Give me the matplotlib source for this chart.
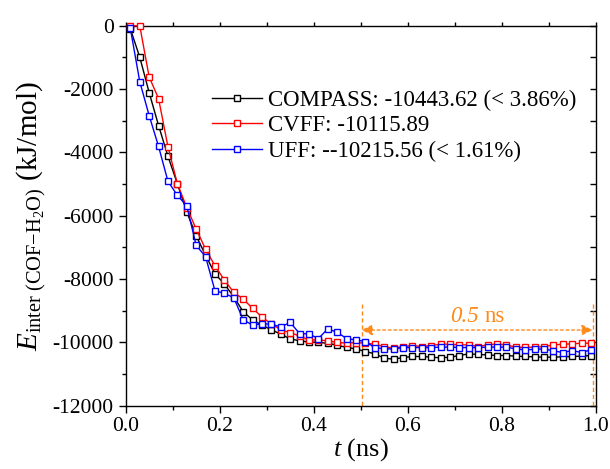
import matplotlib
matplotlib.use("Agg")
import matplotlib.pyplot as plt
from matplotlib.ticker import MultipleLocator
import numpy as np

plt.rcParams['font.family'] = ['Liberation Serif', 'DejaVu Serif']
plt.rcParams['mathtext.fontset'] = 'custom'
plt.rcParams['mathtext.rm'] = 'Liberation Serif'
plt.rcParams['mathtext.it'] = 'Liberation Serif:italic'
plt.rcParams['axes.unicode_minus'] = False

t = [0.01, 0.03, 0.05, 0.07, 0.09, 0.11, 0.13, 0.15, 0.17, 0.19,
     0.21, 0.23, 0.25, 0.27, 0.29, 0.31, 0.33, 0.35, 0.37, 0.39,
     0.41, 0.43, 0.45, 0.47, 0.49, 0.51, 0.53, 0.55, 0.57, 0.59,
     0.61, 0.63, 0.65, 0.67, 0.69, 0.71, 0.73, 0.75, 0.77, 0.79,
     0.81, 0.83, 0.85, 0.87, 0.89, 0.91, 0.93, 0.95, 0.97, 0.99]

compass = [-100, -990, -2110, -3150, -4120, -4990, -5880, -6630, -7250, -7830,
           -8160, -8560, -9030, -9290, -9460, -9600, -9740, -9890, -9950, -9990,
           -10000, -10030, -10090, -10160, -10205, -10290, -10360, -10500, -10530, -10480,
           -10446, -10446, -10467, -10488, -10467, -10415, -10362, -10383, -10394, -10415,
           -10415, -10436, -10446, -10457, -10467, -10467, -10457, -10446, -10436, -10415]

cvff = [0, 0, -1616, -2300, -3820, -4990, -5740, -6420, -7055, -7580,
        -8031, -8420, -8630, -8923, -9200, -9420, -9600, -9690, -9800, -9921,
        -9921, -9953, -10000, -10026, -10005, -10026, -10058, -10131, -10184, -10131,
        -10100, -10131, -10100, -10058, -10058, -10079, -10079, -10131, -10079, -10047,
        -10079, -10150, -10160, -10150, -10131, -10079, -10058, -10047, -10026, -10026]

uff = [-85, -1764, -2835, -3811, -4913, -5354, -5690, -6935, -7290, -8370,
       -8450, -8590, -9280, -9460, -9410, -9428, -9510, -9370, -9720, -9732,
       -9880, -9575, -9680, -9880, -9921, -9974, -10163, -10205, -10205, -10163,
       -10163, -10163, -10163, -10150, -10150, -10163, -10163, -10163, -10150, -10150,
       -10150, -10205, -10236, -10220, -10205, -10268, -10320, -10260, -10320, -10236]

labels = ['COMPASS: -10443.62 (< 3.86%)', 'CVFF: -10115.89', 'UFF: --10215.56 (< 1.61%)']
colors = ['#000000', '#FF0000', '#0000FF']
series = [compass, cvff, uff]

orange = '#FF8A1C'

fig = plt.figure(figsize=(6.1, 4.69), dpi=100)
ax = fig.add_axes([0.206, 0.135, 0.7705, 0.810])

for y, c, lab in zip(series, colors, labels):
    ax.plot(t, y, color=c, lw=1.0, marker='s', ms=5, mfc='white', mec=c,
            mew=1.0, label=lab, clip_on=False, zorder=3)

ax.set_xlim(0, 1.0)
ax.set_ylim(-12000, 0)
ax.xaxis.set_major_locator(MultipleLocator(0.2))
ax.xaxis.set_minor_locator(MultipleLocator(0.1))
ax.yaxis.set_major_locator(MultipleLocator(2000))
ax.yaxis.set_minor_locator(MultipleLocator(1000))
ax.xaxis.set_major_formatter(matplotlib.ticker.FormatStrFormatter('%.1f'))
ax.tick_params(which='major', direction='out', length=5, width=1, labelsize=15.5,
               top=False, right=False)
ax.tick_params(which='minor', direction='out', length=3, width=1, top=False, right=False)
for s in ax.spines.values():
    s.set_linewidth(1.0)

sec = ax.secondary_yaxis('right')
sec.yaxis.set_major_locator(MultipleLocator(1000))
sec.tick_params(direction='in', length=4, width=1, labelright=False)
sec.spines['right'].set_visible(False)
secx = ax.secondary_xaxis('top')
secx.xaxis.set_major_locator(MultipleLocator(0.1))
secx.tick_params(direction='out', length=3, width=1, labeltop=False)
secx.spines['top'].set_visible(False)

ax.set_xlabel(r'$t$ (ns)', fontsize=19, labelpad=0)
ax.set_ylabel(r'$E_{\mathrm{inter\ (COF}\mathrm{-}\mathrm{H_2O)}}$ (kJ/mol)', fontsize=21, labelpad=3)

# 0.5 ns annotation
ax.plot([0.502, 0.502], [-8800, -12000], color=orange, lw=1, ls=(0, (3, 2)))
ax.plot([0.9935, 0.9935], [-8800, -12000], color=orange, lw=1, ls=(0, (3, 2)))
ax.annotate('', xy=(0.502, -9610), xytext=(0.9935, -9610),
            arrowprops=dict(arrowstyle='<|-|>', color=orange, lw=1,
                            linestyle=(0, (2, 2)), mutation_scale=16,
                            shrinkA=0, shrinkB=0))
ax.annotate('0.5', xy=(0.757, -9190), xytext=(-2, 0), textcoords='offset points',
            color=orange, fontsize=16.5, ha='right', va='center', style='italic')
ax.annotate('ns', xy=(0.757, -9190), xytext=(2, 0), textcoords='offset points',
            color=orange, fontsize=16.5, ha='left', va='center')

leg = ax.legend(loc='upper left', bbox_to_anchor=(0.1836, 0.832), frameon=False,
                fontsize=16.5, handlelength=2.2, handletextpad=0.25,
                labelspacing=0.2, borderaxespad=0, borderpad=0, markerscale=0.8)

fig.savefig('out.png', dpi=100)
